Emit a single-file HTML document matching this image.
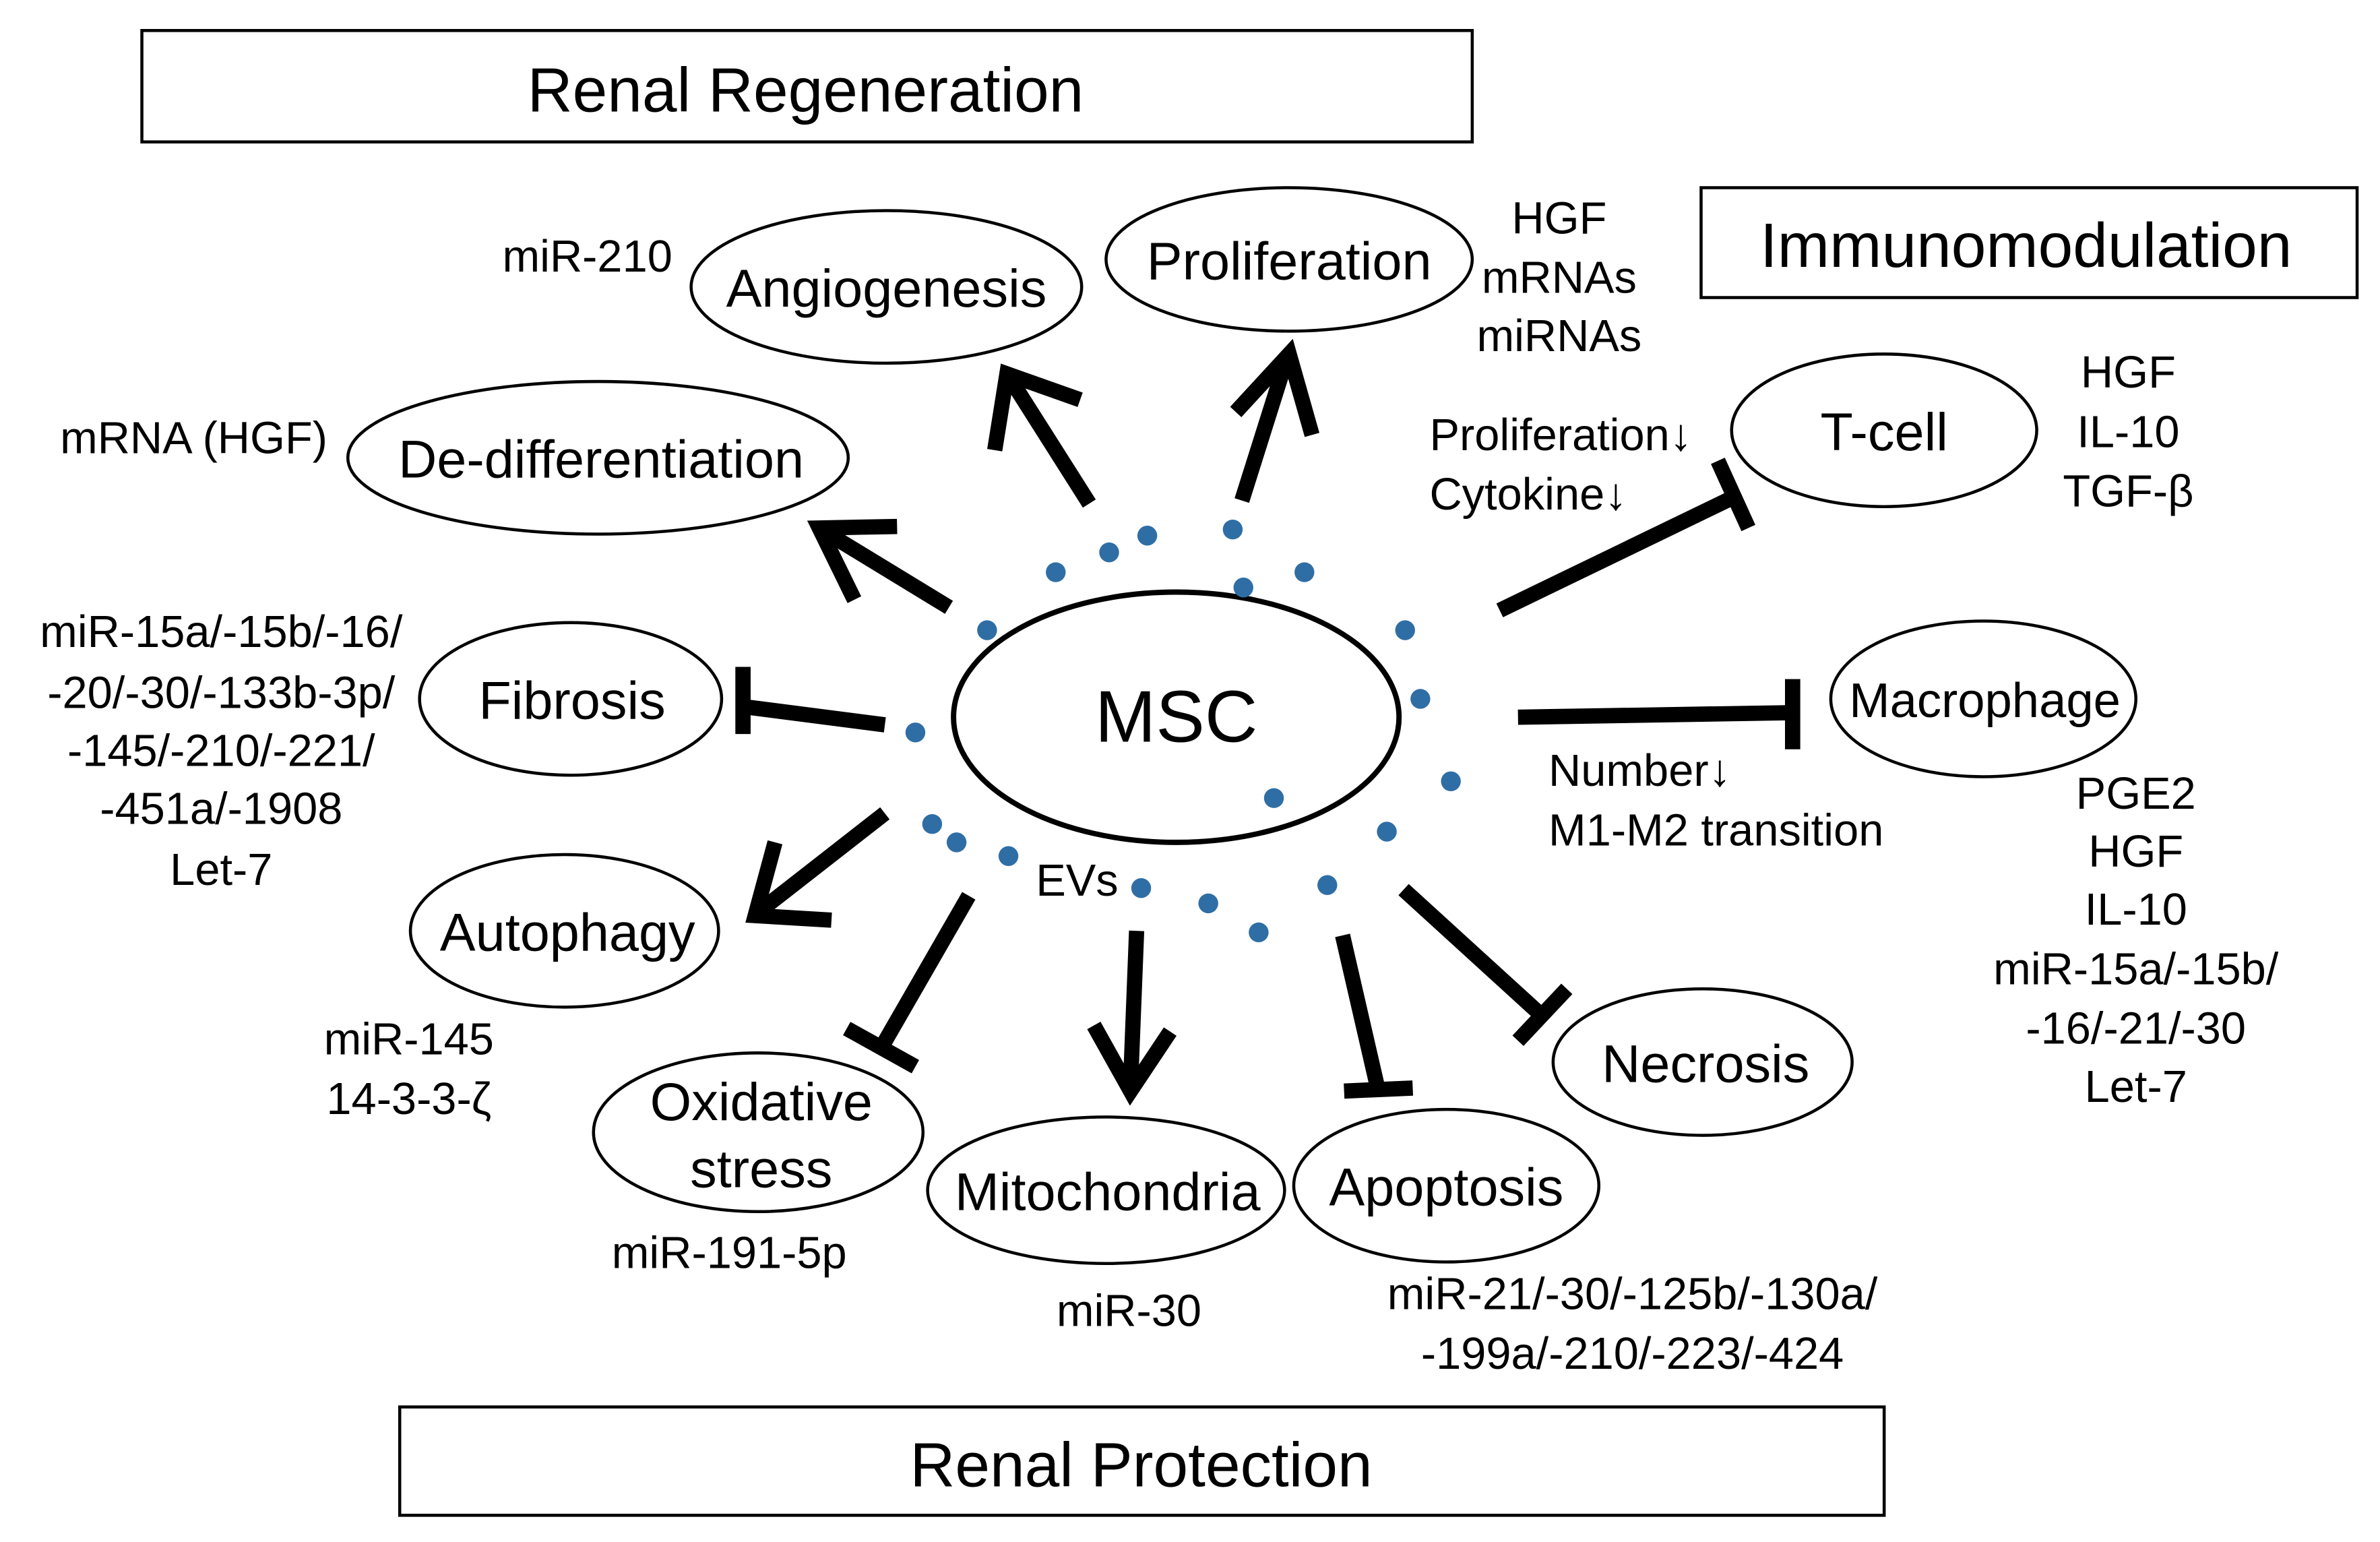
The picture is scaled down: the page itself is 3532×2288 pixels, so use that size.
<!DOCTYPE html>
<html><head><meta charset="utf-8"><style>
html,body{margin:0;padding:0;background:#fff;}
svg{display:block;}
text{font-family:"Liberation Sans",Arial,sans-serif;fill:#000;}
</style></head><body>
<svg width="3532" height="2288" viewBox="0 0 1560 1010.5" preserveAspectRatio="none" xmlns="http://www.w3.org/2000/svg">
<g fill="none" stroke="#000" stroke-width="2">
<rect x="93" y="20" width="872" height="73"/>
<rect x="1115" y="123" width="430" height="72"/>
<rect x="262" y="922" width="973" height="71"/>
<ellipse cx="581" cy="188" rx="128" ry="50"/>
<ellipse cx="845" cy="170" rx="120" ry="47"/>
<ellipse cx="392" cy="300" rx="164" ry="50"/>
<ellipse cx="1235" cy="282" rx="100" ry="50"/>
<ellipse cx="771" cy="470" rx="146" ry="82" stroke-width="3.5"/>
<ellipse cx="374" cy="458" rx="99" ry="50"/>
<ellipse cx="1300" cy="458" rx="100" ry="51"/>
<ellipse cx="370" cy="610" rx="101" ry="50"/>
<ellipse cx="497" cy="742" rx="108" ry="52"/>
<ellipse cx="725" cy="780" rx="117" ry="48"/>
<ellipse cx="948" cy="777" rx="100" ry="50"/>
<ellipse cx="1116" cy="696" rx="98" ry="48"/>
</g>
<g stroke="#000" stroke-width="10" fill="none" stroke-linecap="butt">
<line x1="714" y1="330" x2="662" y2="248"/><polyline points="652,295 660,245 708,262"/>
<line x1="814" y1="328" x2="843" y2="236"/><polyline points="810,270 845,232 860,285"/>
<line x1="622" y1="398" x2="540" y2="348"/><polyline points="560,393 537,346 588,345"/>
<line x1="580" y1="533" x2="498" y2="597"/><polyline points="508,552 495,600 545,603"/>
<line x1="745" y1="610" x2="741" y2="712"/><polyline points="717,672 741,715 767,676"/>
<line x1="983" y1="400" x2="1138" y2="325"/><line x1="1126" y1="302" x2="1146" y2="346"/>
<line x1="995" y1="470" x2="1175" y2="467"/><line x1="1175" y1="445" x2="1175" y2="491"/>
<line x1="580" y1="475" x2="487" y2="463"/><line x1="487" y1="437" x2="487" y2="481"/>
<line x1="635" y1="587" x2="578" y2="686"/><line x1="555" y1="674" x2="600" y2="699"/>
<line x1="880" y1="613" x2="903" y2="713"/><line x1="881" y1="715" x2="926" y2="713"/>
<line x1="920" y1="583" x2="1010" y2="665"/><line x1="995" y1="682" x2="1027" y2="648"/>
</g>
<g fill="#2f6ea5">
<circle cx="692" cy="375" r="6.5"/><circle cx="727" cy="362" r="6.5"/><circle cx="752" cy="351" r="6.5"/>
<circle cx="808" cy="347" r="6.5"/><circle cx="855" cy="375" r="6.5"/><circle cx="815" cy="385" r="6.5"/>
<circle cx="921" cy="413" r="6.5"/><circle cx="931" cy="458" r="6.5"/><circle cx="951" cy="512" r="6.5"/>
<circle cx="909" cy="545" r="6.5"/><circle cx="870" cy="580" r="6.5"/><circle cx="835" cy="523" r="6.5"/>
<circle cx="825" cy="611" r="6.5"/><circle cx="792" cy="592" r="6.5"/><circle cx="748" cy="582" r="6.5"/>
<circle cx="661" cy="561" r="6.5"/><circle cx="627" cy="552" r="6.5"/><circle cx="611" cy="540" r="6.5"/>
<circle cx="600" cy="480" r="6.5"/><circle cx="647" cy="413" r="6.5"/>
</g>
<g text-anchor="middle">
<text x="528" y="73" font-size="41">Renal Regeneration</text>
<text x="1328" y="175" font-size="41">Immunomodulation</text>
<text x="748" y="974" font-size="41">Renal Protection</text>
<g font-size="35">
<text x="581" y="201">Angiogenesis</text>
<text x="845" y="183">Proliferation</text>
<text x="394" y="313">De-differentiation</text>
<text x="1235" y="295">T-cell</text>
<text x="375" y="471">Fibrosis</text>
<text x="1301" y="470" font-size="32">Macrophage</text>
<text x="372" y="623">Autophagy</text>
<text x="499" y="734">Oxidative</text>
<text x="499" y="778">stress</text>
<text x="726" y="793">Mitochondria</text>
<text x="948" y="790">Apoptosis</text>
<text x="1118" y="709">Necrosis</text>
</g>
<text x="771" y="486" font-size="48">MSC</text>
<g font-size="29.5">
<text x="385" y="178">miR-210</text>
<text x="1022" y="153">HGF</text><text x="1022" y="192">mRNAs</text><text x="1022" y="230">miRNAs</text>
<text x="127" y="297">mRNA (HGF)</text>
<text x="1395" y="254">HGF</text><text x="1395" y="293">IL-10</text><text x="1395" y="332">TGF-β</text>
<text x="145" y="424">miR-15a/-15b/-16/</text><text x="145" y="464">-20/-30/-133b-3p/</text><text x="145" y="502">-145/-210/-221/</text><text x="145" y="540">-451a/-1908</text><text x="145" y="580">Let-7</text>
<text x="1400" y="530">PGE2</text><text x="1400" y="568">HGF</text><text x="1400" y="606">IL-10</text><text x="1400" y="645">miR-15a/-15b/</text><text x="1400" y="684">-16/-21/-30</text><text x="1400" y="722">Let-7</text>
<text x="706" y="587">EVs</text>
<text x="268" y="691">miR-145</text><text x="268" y="730">14-3-3-ζ</text>
<text x="478" y="831">miR-191-5p</text>
<text x="740" y="869">miR-30</text>
<text x="1070" y="858">miR-21/-30/-125b/-130a/</text><text x="1070" y="897">-199a/-210/-223/-424</text>
</g>
</g>
<g font-size="29.5">
<text x="937" y="295">Proliferation↓</text><text x="937" y="334">Cytokine↓</text>
<text x="1015" y="515">Number↓</text><text x="1015" y="554">M1-M2 transition</text>
</g>
</svg>
</body></html>
